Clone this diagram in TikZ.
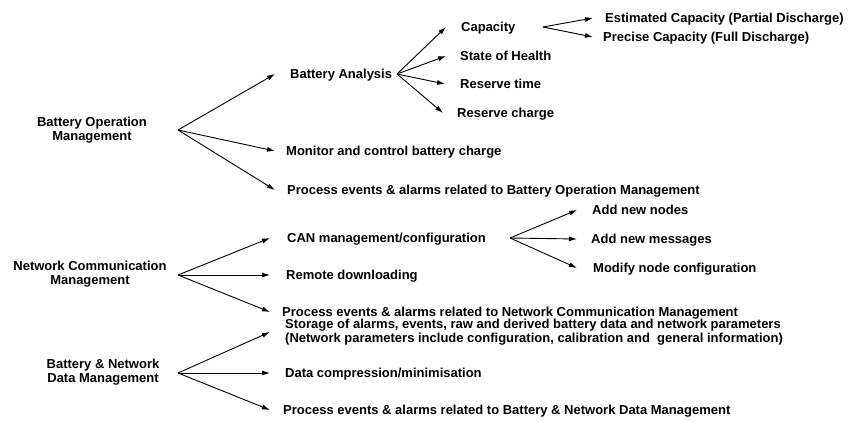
\documentclass[tikz,border=0pt]{standalone}
\usepackage{fontspec}
\setmainfont{Liberation Sans}
\usetikzlibrary{arrows.meta}
\begin{document}
\begin{tikzpicture}[x=1pt,y=-1pt,
  txt/.style={font=\fontsize{13}{13.8}\selectfont\bfseries},
  lbl/.style={txt,anchor=west,inner xsep=#1,inner ysep=0pt,text height=9pt,text depth=0pt},
  lbl/.default=13pt,
  multi/.style={font=\fontsize{13}{14}\selectfont\bfseries,anchor=west,inner xsep=#1,inner ysep=0pt,align=left},
  root/.style={txt,align=center,inner sep=0pt},
  arr/.style={-{Latex[length=8pt,width=5pt]},line width=0.9pt}]
\useasboundingbox (0,0) rectangle (855,421);

% roots
\node[root] (bom) at (92,130) {Battery Operation\\Management};
\node[root] (ncm) at (90,274) {Network Communication\\Management};
\node[root] (bnd) at (103,372) {Battery \& Network\\Data Management};

% fan origins
\coordinate (bomF) at (178,130);
\coordinate (ncmF) at (178,275);
\coordinate (bndF) at (178,373);
\coordinate (baF) at (397,74);
\coordinate (capF) at (543,27);
\coordinate (canF) at (510,238);

% Battery Operation Management
\node[lbl=15pt] (ba) at (275,74) {Battery Analysis};
\node[lbl=11pt] (mon) at (275,151) {Monitor and control battery charge};
\node[lbl=12pt] (pbom) at (275,190) {Process events \& alarms related to Battery Operation Management};
\node[lbl=15pt] (cap) at (446,27) {Capacity};
\node[lbl=14pt] (soh) at (446,56) {State of Health};
\node[lbl=15pt] (rt) at (445,84) {Reserve time};
\node[lbl=14pt] (rc) at (443,113) {Reserve charge};
\node[lbl=12pt] (est) at (593,18) {Estimated Capacity (Partial Discharge)};
\node[lbl=10pt] (pre) at (593,37) {Precise Capacity (Full Discharge)};

% Network Communication Management
\node[lbl=17pt] (can) at (270,238) {CAN management/configuration};
\node[lbl=16pt] (rem) at (270,275) {Remote downloading};
\node[lbl=12pt] (pncm) at (270,312) {Process events \& alarms related to Network Communication Management};
\node[lbl=15pt] (ann) at (577,210) {Add new nodes};
\node[lbl=14pt] (anm) at (577,239) {Add new messages};
\node[lbl=16pt] (mnc) at (577,268) {Modify node configuration};

% Battery & Network Data Management
\node[multi=15pt] (sto) at (270,332) {Storage of alarms, events, raw and derived battery data and network parameters\\(Network parameters include configuration, calibration and \ general information)};
\node[lbl=15pt] (dc) at (270,373) {Data compression/minimisation};
\node[lbl=13pt] (pbnd) at (270,410) {Process events \& alarms related to Battery \& Network Data Management};

% connectors
\draw[arr] (bomF) -- (ba.west);
\draw[arr] (bomF) -- (mon.west);
\draw[arr] (bomF) -- (pbom.west);
\draw[arr] (baF) -- (cap.west);
\draw[arr] (baF) -- (soh.west);
\draw[arr] (baF) -- (rt.west);
\draw[arr] (baF) -- (rc.west);
\draw[arr] (capF) -- (est.west);
\draw[arr] (capF) -- (pre.west);
\draw[arr] (ncmF) -- (can.west);
\draw[arr] (ncmF) -- (rem.west);
\draw[arr] (ncmF) -- (pncm.west);
\draw[arr] (canF) -- (ann.west);
\draw[arr] (canF) -- (anm.west);
\draw[arr] (canF) -- (mnc.west);
\draw[arr] (bndF) -- (sto.west);
\draw[arr] (bndF) -- (dc.west);
\draw[arr] (bndF) -- (pbnd.west);
\end{tikzpicture}
\end{document}
